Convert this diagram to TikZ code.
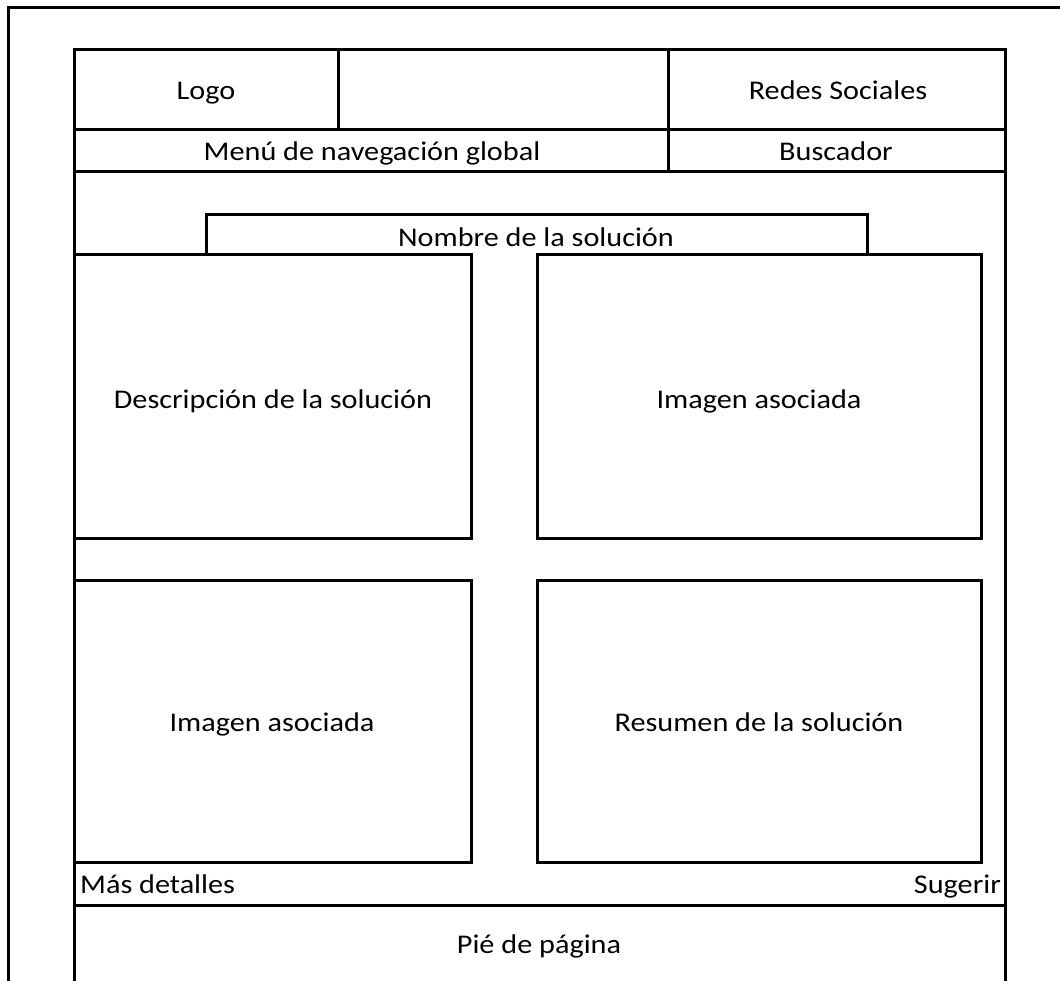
\documentclass[tikz,border=0pt]{standalone}
\usepackage{fontspec}
\setmainfont{Carlito}[FakeStretch=1.12]
\begin{document}
\begin{tikzpicture}[x=1pt,y=-1pt,
  ln/.style={line width=3pt, line join=miter},
  lbl/.style={inner sep=0pt, anchor=base, font=\fontsize{27}{32}\selectfont, text=black}]
\useasboundingbox (0,0) rectangle (1060,981);
% outer frame
\draw[ln] (8,981) -- (8,8) -- (1060,8);
% inner frame
\draw[ln] (74,981) -- (74,50) -- (1005,50) -- (1005,981);
% header rows
\draw[ln] (74,130) -- (1005,130);
\draw[ln] (74,172) -- (1005,172);
\draw[ln] (338,50) -- (338,130);
\draw[ln] (668,50) -- (668,172);
% title tab
\draw[ln] (206,255) -- (206,215) -- (867,215) -- (867,255);
% content boxes
\draw[ln] (74,255) rectangle (471,538);
\draw[ln] (537,255) rectangle (981,538);
\draw[ln] (74,580) rectangle (471,862);
\draw[ln] (537,580) rectangle (981,862);
% footer line
\draw[ln] (74,905) -- (1005,905);
% texts
\node[lbl] (logo) at (206,100) {Logo};
\node[lbl] (redes) at (838,100) {Redes Sociales};
\node[lbl] (menu) at (372,161) {Menú de navegación global};
\node[lbl] (busc) at (836,161) {Buscador};
\node[lbl] (nombre) at (536,247) {Nombre de la solución};
\node[lbl] (desc) at (273,409) {Descripción de la solución};
\node[lbl] (img1) at (759,409) {Imagen asociada};
\node[lbl] (img2) at (272,731) {Imagen asociada};
\node[lbl] (res) at (759,731) {Resumen de la solución};
\node[lbl, anchor=base west] (mas) at (80,893) {Más detalles};
\node[lbl, anchor=base east] (sug) at (1001,893) {Sugerir};
\node[lbl] (pie) at (539,953) {Pié de página};
\end{tikzpicture}
\end{document}
